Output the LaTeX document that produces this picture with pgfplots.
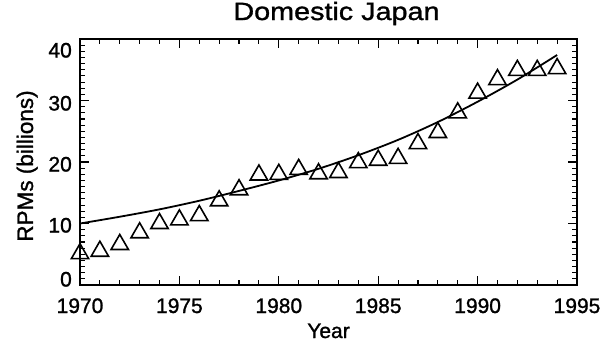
\documentclass[border=0pt]{standalone}
\usepackage{fontspec}
\setmainfont{Liberation Sans}[FakeBold=1.2]
\newfontfamily\titlefont{Liberation Sans}[FakeStretch=1.15,FakeBold=1.2]
\usepackage{pgfplots}
\pgfplotsset{compat=1.18}
\begin{document}
\begin{tikzpicture}
\begin{axis}[
  scale only axis, width=497pt, height=246pt,
  xmin=1970, xmax=1995, ymin=0, ymax=40,
  xtick={1970,1975,...,1995}, ytick={0,10,...,40},
  minor x tick num=4, minor y tick num=9,
  tick align=inside, major tick length=9pt, minor tick length=5pt,
  axis line style={line width=1.5pt},
  every tick/.style={line width=1.1pt,black},
  /pgf/number format/assume math mode=true,
  /pgf/number format/1000 sep={},
  ticklabel style={font=\fontsize{21}{23}\selectfont},
  xticklabel style={anchor=base, yshift=-28pt},
  yticklabel style={anchor=base east, inner sep=0pt, xshift=-8pt, yshift=-7.5pt},
  yticklabels={\raisebox{6pt}{0},\raisebox{-1.5pt}{10},\raisebox{-2pt}{20},\raisebox{-2.5pt}{30},\raisebox{-11pt}{40}},
  title={Domestic Japan},
  title style={font=\titlefont\fontsize{25}{28}\selectfont, at={(axis description cs:0.5,1)}, anchor=base, yshift=13pt, xshift=8pt},
  xlabel={Year}, ylabel={RPMs (billions)},
  xlabel style={font=\fontsize{21}{23}\selectfont, at={(axis description cs:0.5,0)}, anchor=base, yshift=-53pt},
  ylabel style={font=\fontsize{22.5}{24}\selectfont, at={([xshift=-47pt,yshift=-4pt]axis description cs:0,0.5)}, anchor=base},
]
\addplot[only marks, mark=triangle, mark size=10pt, mark options={line width=1.6pt, yshift=-2.5pt, fill=none}] coordinates {
(1970,5.5) (1971,5.9) (1972,7.0) (1973,8.9) (1974,10.4) (1975,11.0)
(1976,11.7) (1977,14.1) (1978,15.9) (1979,18.3) (1980,18.4) (1981,19.2)
(1982,18.5) (1983,18.7) (1984,20.3) (1985,20.7) (1986,21.0) (1987,23.4)
(1988,25.2) (1989,28.4) (1990,31.6) (1991,33.8) (1992,35.3) (1993,35.3)
(1994,35.6)
};
\addplot[smooth, line width=1.8pt, black] coordinates {
(1970,10.0) (1972,11.1) (1974,12.3) (1976,13.7) (1978,15.3) (1980,17.0)
(1982,18.9) (1984,21.1) (1986,23.6) (1988,26.5) (1990,29.8) (1992,33.4)
(1994,37.4)
};
\end{axis}
\pgfresetboundingbox
\useasboundingbox (-80pt,-61pt) rectangle (524pt,285pt);
\end{tikzpicture}
\end{document}
